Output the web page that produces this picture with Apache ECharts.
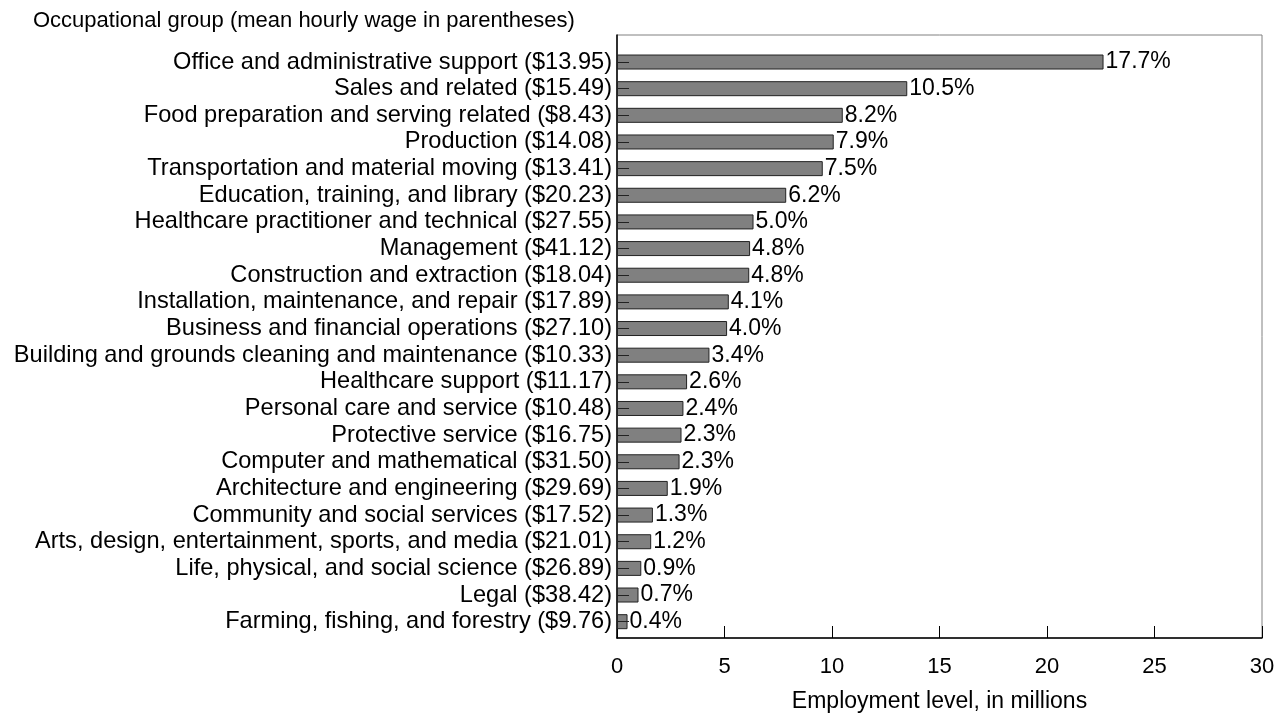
<!DOCTYPE html>
<html>
<head>
<meta charset="utf-8">
<script src="https://cdn.jsdelivr.net/npm/echarts@6/dist/echarts.min.js"></script>
<style>
  html, body { margin: 0; padding: 0; background: #fff; }
  #chart { width: 1286px; height: 718px; }
</style>
</head>
<body>
<div id="chart"></div>
<script>
// occupational groups, top to bottom
var groups = [
    'Office and administrative support ($13.95)',
    'Sales and related ($15.49)',
    'Food preparation and serving related ($8.43)',
    'Production ($14.08)',
    'Transportation and material moving ($13.41)',
    'Education, training, and library ($20.23)',
    'Healthcare practitioner and technical ($27.55)',
    'Management ($41.12)',
    'Construction and extraction ($18.04)',
    'Installation, maintenance, and repair ($17.89)',
    'Business and financial operations ($27.10)',
    'Building and grounds cleaning and maintenance ($10.33)',
    'Healthcare support ($11.17)',
    'Personal care and service ($10.48)',
    'Protective service ($16.75)',
    'Computer and mathematical ($31.50)',
    'Architecture and engineering ($29.69)',
    'Community and social services ($17.52)',
    'Arts, design, entertainment, sports, and media ($21.01)',
    'Life, physical, and social science ($26.89)',
    'Legal ($38.42)',
    'Farming, fishing, and forestry ($9.76)'
];
// employment level, millions
var employment = [22.63, 13.5, 10.5, 10.08, 9.57, 7.87, 6.35, 6.19, 6.15, 5.2, 5.12,
    4.3, 3.26, 3.09, 3.0, 2.91, 2.36, 1.67, 1.59, 1.13, 1.0, 0.49];
// share of total employment, percent
var shares = ['17.7', '10.5', '8.2', '7.9', '7.5', '6.2', '5.0', '4.8', '4.8', '4.1', '4.0',
    '3.4', '2.6', '2.4', '2.3', '2.3', '1.9', '1.3', '1.2', '0.9', '0.7', '0.4'];
var xTicks = [0, 30, 5];

var fontFam = '"Liberation Sans", Arial, sans-serif';
var myChart = echarts.init(document.getElementById('chart'));

var option = {
    animation: false,
    backgroundColor: '#ffffff',
    title: {
        text: 'Occupational group (mean hourly wage in parentheses)',
        left: 33,
        top: 8,
        padding: 0,
        textStyle: { fontFamily: fontFam, fontSize: 22, fontWeight: 'normal', color: '#000', lineHeight: 26 }
    },
    grid: [
        // outer box
        { left: 617, width: 645, top: 35, height: 613, show: true,
          borderColor: '#808080', borderWidth: 1, backgroundColor: 'transparent' },
        // bars
        { left: 617, width: 645, top: 48.7, height: 586.3 }
    ],
    xAxis: [
        {
            gridIndex: 0,
            type: 'value',
            min: xTicks[0],
            max: xTicks[1],
            interval: xTicks[2],
            name: 'Employment level, in millions',
            nameLocation: 'middle',
            nameGap: 52,
            nameTextStyle: { fontFamily: fontFam, fontSize: 23, color: '#000' },
            axisLine: { show: true, lineStyle: { color: '#000', width: 1.5 } },
            axisTick: { show: true, inside: true, length: 12, lineStyle: { color: '#000' } },
            axisLabel: { margin: 18, fontFamily: fontFam, fontSize: 22, color: '#000' },
            splitLine: { show: false }
        },
        {
            gridIndex: 1,
            type: 'value',
            min: xTicks[0],
            max: xTicks[1],
            show: false
        }
    ],
    yAxis: [
        {
            gridIndex: 0,
            type: 'value',
            min: 0,
            max: 1,
            axisLine: { show: true, lineStyle: { color: '#000', width: 1.5 } },
            axisTick: { show: false },
            axisLabel: { show: false },
            splitLine: { show: false }
        },
        {
            gridIndex: 1,
            type: 'category',
            inverse: true,
            data: groups,
            z: 3,
            axisLine: { show: false },
            axisTick: { show: true, inside: true, alignWithLabel: true, length: 12,
                        interval: 0, lineStyle: { color: '#222' } },
            axisLabel: { margin: 5, interval: 0, fontFamily: fontFam, fontSize: 23.6,
                         lineHeight: 24, color: '#000' },
            splitLine: { show: false }
        }
    ],
    series: [
        {
            type: 'bar',
            xAxisIndex: 1,
            yAxisIndex: 1,
            data: employment,
            barWidth: 15,
            itemStyle: { color: '#808080', borderColor: '#222', borderWidth: 1 },
            label: {
                show: true,
                position: 'right',
                distance: 2,
                fontFamily: fontFam,
                fontSize: 23,
                color: '#000',
                formatter: function (p) { return shares[p.dataIndex] + '%'; }
            }
        }
    ]
};

myChart.setOption(option);
</script>
</body>
</html>
